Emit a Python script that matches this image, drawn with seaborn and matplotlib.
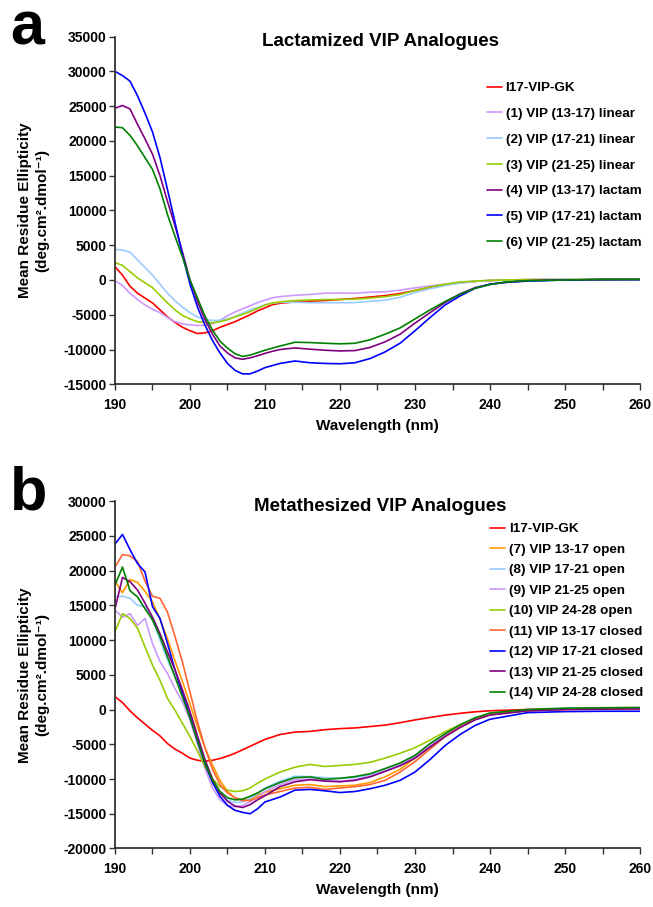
import matplotlib
matplotlib.use("Agg")
import matplotlib.pyplot as plt
from matplotlib.ticker import MultipleLocator
import seaborn as sns
import pandas as pd

# ---- panel a : lactamized analogues ----
wl_a = [190, 191, 192, 193, 194, 195, 196, 197, 198, 199, 200, 201, 202, 203, 204, 205,
        206, 207, 208, 209, 210, 211, 212, 214, 216, 218, 220, 222, 224, 226, 228, 230,
        232, 234, 236, 238, 240, 242, 245, 250, 255, 260]

a_parent = [1900, 700, -900, -1900, -2600, -3300, -4300, -5300, -6100, -6800, -7300, -7700,
            -7600, -7300, -6800, -6400, -6000, -5500, -5000, -4450, -4000, -3550, -3350,
            -3150, -3050, -2950, -2800, -2650, -2450, -2250, -1950, -1500, -1050, -700,
            -400, -200, -80, 0, 50, 50, 80, 100]
a_lin_13_17 = [-100, -800, -1900, -2800, -3600, -4200, -4700, -5400, -6000, -6300, -6450,
               -6550, -6500, -6300, -5800, -5150, -4600, -4150, -3700, -3250, -2900, -2550,
               -2400, -2200, -2080, -1900, -1870, -1900, -1750, -1700, -1450, -1130, -850,
               -600, -350, -180, -60, 0, 50, 60, 100, 120]
a_lin_17_21 = [4400, 4300, 4000, 2900, 1800, 700, -600, -1900, -3000, -3900, -4700, -5300,
               -5700, -5820, -5780, -5620, -5250, -4750, -4300, -3950, -3550, -3350, -3220,
               -3200, -3270, -3270, -3270, -3250, -3070, -2900, -2500, -1800, -1250, -800,
               -450, -200, -80, 0, 30, 50, 80, 80]
a_lin_21_25 = [2500, 2100, 1200, 300, -400, -1100, -2200, -3300, -4300, -5100, -5600, -6000,
               -6100, -6150, -6000, -5700, -5300, -4950, -4550, -4100, -3600, -3300, -3150,
               -2950, -2870, -2820, -2790, -2750, -2600, -2400, -2100, -1500, -1000, -600,
               -300, -150, -50, 0, 50, 50, 80, 100]
a_lac_13_17 = [24700, 25100, 24600, 22400, 20300, 18100, 15000, 11300, 7800, 4000, 0, -3100,
               -5700, -7800, -9500, -10500, -11200, -11400, -11200, -10900, -10550, -10250,
               -10000, -9770, -9950, -10100, -10200, -10150, -9700, -8900, -7800, -6200,
               -4700, -3250, -2000, -1100, -620, -350, -100, 0, 80, 80]
a_lac_17_21 = [30000, 29400, 28600, 26500, 24000, 21300, 17600, 13000, 8300, 3600, -600,
               -3900, -6500, -8700, -10500, -12000, -13000, -13500, -13500, -13100, -12600,
               -12300, -12000, -11650, -11900, -12000, -12050, -11900, -11300, -10350, -9100,
               -7300, -5400, -3600, -2300, -1200, -600, -350, -150, 0, 50, 50]
a_lac_21_25 = [22000, 21900, 20800, 19300, 17600, 15900, 13100, 9400, 6300, 3300, 0, -2600,
               -5200, -7200, -8800, -9800, -10600, -11000, -10800, -10450, -10100, -9800,
               -9500, -8950, -9000, -9100, -9180, -9100, -8600, -7800, -6900, -5600, -4300,
               -3100, -2050, -1200, -650, -300, -100, 0, 80, 80]

labels_a = ["I17-VIP-GK", "(1) VIP (13-17) linear", "(2) VIP (17-21) linear",
            "(3) VIP (21-25) linear", "(4) VIP (13-17) lactam", "(5) VIP (17-21) lactam",
            "(6) VIP (21-25) lactam"]
colors_a = ["#FF0000", "#CC99FF", "#99CCFF", "#99CC00", "#800080", "#0000FF", "#008000"]

# ---- panel b : metathesized analogues ----
wl_b = [190, 191, 192, 193, 194, 195, 196, 197, 198, 199, 200, 201, 202, 203, 204, 205,
        206, 207, 208, 209, 210, 212, 214, 216, 218, 220, 222, 224, 226, 228, 230, 232,
        234, 236, 238, 240, 245, 250, 255, 260]

b_parent = [1850, 1000, -200, -1200, -2100, -3000, -3800, -4900, -5700, -6300, -7000, -7300,
            -7450, -7300, -7050, -6700, -6300, -5800, -5300, -4800, -4300, -3600, -3250,
            -3150, -2900, -2750, -2650, -2450, -2250, -1900, -1500, -1150, -800, -550, -330,
            -180, 0, 50, 120, 150]
b_open_13_17 = [18500, 16800, 18700, 18300, 17000, 15500, 13000, 10200, 7000, 4000, 800,
                -2500, -5500, -8000, -10200, -11800, -12700, -13000, -12900, -12300, -11900,
                -11400, -10900, -10800, -11100, -11000, -10900, -10500, -9700, -8600, -7000,
                -5400, -3800, -2400, -1300, -700, -150, 50, 100, 150]
b_open_17_21 = [16200, 16300, 16000, 15000, 14800, 12900, 10000, 7100, 4700, 2300, -800,
                -4300, -7700, -10300, -12000, -13000, -13400, -13300, -12800, -12100, -11300,
                -10300, -9600, -9650, -9800, -9900, -9800, -9450, -8800, -7900, -6700, -5100,
                -3600, -2300, -1300, -600, -100, 100, 150, 200]
b_open_21_25 = [14300, 13300, 13800, 12100, 13100, 9500, 6900, 5200, 3000, 1100, -1500,
                -5000, -8500, -11300, -13000, -13800, -14000, -13800, -13300, -12600, -11800,
                -10800, -10100, -10000, -10200, -10300, -10100, -9600, -8900, -8000, -6800,
                -5200, -3700, -2400, -1400, -700, -100, 50, 100, 150]
b_open_24_28 = [11200, 13800, 13100, 11700, 9000, 6400, 4200, 1600, -100, -2000, -3900,
                -6000, -8200, -10000, -11100, -11600, -11800, -11700, -11300, -10600, -10000,
                -9000, -8300, -7900, -8200, -8050, -7900, -7600, -7000, -6300, -5500, -4400,
                -3200, -2200, -1400, -700, -100, 100, 150, 200]
b_closed_13_17 = [20500, 22300, 22100, 21300, 18500, 16300, 16000, 14000, 10500, 6800, 2500,
                  -1800, -5500, -8600, -10800, -12000, -12700, -13100, -13100, -12700, -12300,
                  -11800, -11300, -11200, -11500, -11300, -11100, -10800, -10200, -9000,
                  -7500, -5700, -3900, -2500, -1400, -700, -150, 0, 50, 100]
b_closed_17_21 = [23800, 25200, 23000, 21000, 19800, 14800, 13100, 9500, 5700, 2300, -1000,
                  -4500, -7800, -10500, -12500, -13800, -14500, -14800, -15000, -14300,
                  -13300, -12600, -11600, -11500, -11700, -11950, -11800, -11400, -10900,
                  -10200, -9000, -7200, -5200, -3600, -2300, -1400, -450, -300, -250, -250]
b_closed_21_25 = [14500, 19000, 18400, 17200, 15300, 13300, 10900, 8300, 5700, 2800, -300,
                  -3800, -7200, -10000, -12000, -13200, -13900, -14100, -13700, -13000,
                  -12400, -11100, -10400, -10100, -10300, -10400, -10200, -9700, -8900, -8100,
                  -7000, -5400, -3900, -2600, -1500, -800, -200, 0, 50, 100]
b_closed_24_28 = [17900, 20500, 17100, 16200, 14500, 12900, 10500, 7600, 4700, 1800, -1200,
                  -4500, -7700, -10200, -11800, -12700, -13000, -12900, -12500, -12000, -11400,
                  -10500, -9800, -9700, -10050, -9900, -9650, -9250, -8500, -7700, -6600,
                  -4900, -3500, -2200, -1200, -500, 0, 200, 250, 300]

labels_b = ["I17-VIP-GK", "(7) VIP 13-17 open", "(8) VIP 17-21 open", "(9) VIP 21-25 open",
            "(10) VIP 24-28 open", "(11) VIP 13-17 closed", "(12) VIP 17-21 closed",
            "(13) VIP 21-25 closed", "(14) VIP 24-28 closed"]
colors_b = ["#FF0000", "#FF9900", "#99CCFF", "#CC99FF", "#99CC00", "#FF6633", "#0000FF",
            "#800080", "#008000"]


def to_long(wavelengths, series, labels):
    frames = []
    for values, name in zip(series, labels):
        frames.append(pd.DataFrame({"wavelength": wavelengths, "mre": values, "sample": name}))
    return pd.concat(frames, ignore_index=True)


df_a = to_long(wl_a, [a_parent, a_lin_13_17, a_lin_17_21, a_lin_21_25,
                      a_lac_13_17, a_lac_17_21, a_lac_21_25], labels_a)
df_b = to_long(wl_b, [b_parent, b_open_13_17, b_open_17_21, b_open_21_25, b_open_24_28,
                      b_closed_13_17, b_closed_17_21, b_closed_21_25, b_closed_24_28], labels_b)

sns.set_style("ticks")
plt.rcParams["font.family"] = ["Liberation Sans", "DejaVu Sans"]
plt.rcParams["font.weight"] = "bold"
plt.rcParams["axes.unicode_minus"] = False
plt.rcParams["text.color"] = "black"
plt.rcParams["axes.labelcolor"] = "black"
plt.rcParams["xtick.color"] = "black"
plt.rcParams["ytick.color"] = "black"

fig = plt.figure(figsize=(6.53, 9.07), dpi=100)
ax_a = fig.add_axes([0.1761, 0.5763, 0.804, 0.3833])
ax_b = fig.add_axes([0.1761, 0.0645, 0.804, 0.3831])


def style_panel(ax, df, labels, colors, ylim, title, legend_xy, label_gap):
    sns.lineplot(data=df, x="wavelength", y="mre", hue="sample", hue_order=labels,
                 palette=colors, estimator=None, linewidth=1.2, legend=False, ax=ax)
    ax.set_xlim(190, 260)
    ax.set_ylim(*ylim)
    ax.xaxis.set_major_locator(MultipleLocator(10))
    ax.xaxis.set_minor_locator(MultipleLocator(5))
    ax.yaxis.set_major_locator(MultipleLocator(5000))
    sns.despine(ax=ax)
    for side in ("left", "bottom"):
        ax.spines[side].set_linewidth(1.3)
        ax.spines[side].set_color("#333333")
    ax.tick_params(axis="both", which="both", direction="out", length=4, width=1,
                   color="#333333", labelsize=10, pad=2)
    ax.tick_params(axis="x", pad=6)
    ax.set_xlabel("Wavelength (nm)", fontsize=11, fontweight="bold", labelpad=5)
    ax.set_ylabel("Mean Residue Ellipticity\n(deg.cm\u00b2.dmol\u207b\u00b9)", fontsize=11,
                  fontweight="bold", linespacing=1.25)
    ax.yaxis.set_label_coords(-0.126, 0.5)
    ax.text(0.505, 0.985, title, transform=ax.transAxes, ha="center", va="center",
            fontsize=13.5, fontweight="bold")
    ax.legend(ax.lines, labels, loc="upper left", bbox_to_anchor=legend_xy, frameon=False,
              handlelength=1.15, handletextpad=0.25, borderpad=0, borderaxespad=0,
              labelspacing=label_gap, prop={"weight": "bold", "size": 9.7})


style_panel(ax_a, df_a, labels_a, colors_a, (-15000, 35000), "Lactamized VIP Analogues",
            (0.708, 0.870), 0.99)
style_panel(ax_b, df_b, labels_b, colors_b, (-20000, 30000), "Metathesized VIP Analogues",
            (0.714, 0.937), 0.60)

fig.text(0.015, 0.951, "a", fontsize=44, fontweight="bold", va="baseline")
fig.text(0.015, 0.438, "b", fontsize=44, fontweight="bold", va="baseline")

fig.savefig("out.png", dpi=100)
plt.close(fig)
